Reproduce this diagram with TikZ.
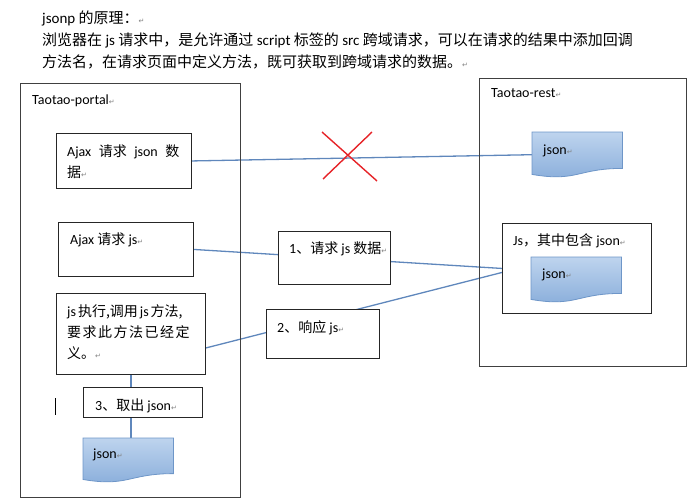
\documentclass[tikz,border=0pt]{standalone}
\usepackage{fontspec}
\setmainfont{Carlito}
\newfontfamily\cjk{Noto Sans CJK SC}
\newfontfamily\symf{DejaVu Sans}
\usetikzlibrary{calc,backgrounds}
\newcommand{\retmark}{{\symf\fontsize{7}{7}\selectfont\textcolor{gray}{↵}}}
\newcommand{\mlines}[1]{\begin{tabular}[t]{@{}l@{}}#1\end{tabular}}
\definecolor{linkblue}{RGB}{95,135,188}
\definecolor{docedge}{RGB}{110,150,200}
\definecolor{doctop}{RGB}{190,212,238}
\definecolor{docbot}{RGB}{135,172,218}
\definecolor{crossred}{RGB}{230,35,40}
\tikzset{
 boxst/.style={draw=black!85, line width=0.9pt, fill=white, inner sep=0pt, anchor=north west},
 outerbox/.style={draw=black!75, line width=1pt, inner sep=0pt, anchor=north west},
 txt/.style={anchor=base west, inner sep=0pt, font=\fontsize{14}{21}\selectfont},
 toptxt/.style={anchor=base west, inner sep=0pt, font=\fontsize{15}{22}\selectfont},
 link/.style={draw=linkblue, line width=1.3pt},
 docst/.style={draw=none, inner sep=0pt, anchor=north west},
 docfill/.style={draw=docedge, line width=0.8pt, top color=doctop, bottom color=docbot},
 crossst/.style={draw=crossred, line width=1.4pt},
}
\newcommand{\docshape}[1]{\path[docfill] (#1.north west) -- (#1.north east) -- ($(#1.north east)!0.802!(#1.south east)$) .. controls ($(#1.north)!0.802!(#1.south)$) and ($(#1.north)!1.107!(#1.south)$) .. ($(#1.north west)!0.934!(#1.south west)$) -- cycle;}
\begin{document}
\begin{tikzpicture}[x=1pt,y=-1pt]
\useasboundingbox (0,0) rectangle (695,500);
% top text
\node[toptxt] (intro) at (42,24) {\mlines{jsonp {\cjk 的原理：}\retmark\\
{\cjk 浏览器在} js {\cjk 请求中，是允许通过} script {\cjk 标签的} src {\cjk 跨域请求，可以在请求的结果中添加回调}\\
{\cjk 方法名，在请求页面中定义方法，既可获取到跨域请求的数据。}\retmark}};
% outer boxes
\node[outerbox, minimum width=220pt, minimum height=414pt] (portal) at (20,83) {};
\node[outerbox, minimum width=207pt, minimum height=288pt] (rest) at (479,78) {};
\node[txt] (portallbl) at (32,105) {Taotao-portal\retmark};
\node[txt] (restlbl) at (491,98) {Taotao-rest\retmark};
% portal inner boxes
\node[boxst, minimum width=135pt, minimum height=55pt] (A) at (56,133) {};
\node[boxst, minimum width=135pt, minimum height=54pt] (B) at (58,222) {};
\node[boxst, minimum width=149pt, minimum height=81pt] (C) at (56,293) {};
\node[boxst, minimum width=119pt, minimum height=30pt] (D) at (83,387) {};
\node[docst, minimum width=90pt, minimum height=44pt] (jL) at (83,438) {};
% rest inner
\node[docst, minimum width=90pt, minimum height=45pt] (rj) at (532,132) {};
\node[boxst, minimum width=149pt, minimum height=90pt] (js) at (502,223) {};
\node[docst, minimum width=90pt, minimum height=45pt] (ij) at (531,257) {};
% middle boxes
\node[boxst, minimum width=112pt, minimum height=53pt] (b1) at (278,231) {};
\node[boxst, minimum width=113pt, minimum height=49pt] (b2) at (266,309) {};
% document shapes
\docshape{jL}
\docshape{rj}
\docshape{ij}
% connectors below the boxes
\begin{scope}[on background layer]
 \draw[link] (A.east) -- (rj.west);
 \draw[link] (B.east) -- (js.west);
 \draw[link] ($(C.east)+(0,14)$) -- ($(js.west)+(0,4)$);
 \draw[link] (C.south) -- (C.south |- D.north);
 \draw[link] (C.south |- D.south) -- (C.south |- jL.north);
\end{scope}
% red cross
\draw[crossst] (322,132) -- (377,181);
\draw[crossst] (372,132) -- (323,179);
% cursor mark
\draw[black, line width=0.8pt] (55,398) -- (55,415);
% texts
\node[txt] (tA) at (67,156) {\mlines{Ajax\hspace{7.5pt}{\cjk 请求}\hspace{7.5pt}json\hspace{7.5pt}{\cjk 数}\\{\cjk 据}\retmark}};
\node[txt] (tB) at (70,244) {Ajax {\cjk 请求} js\retmark};
\node[txt] (tC) at (67,316) {\mlines{js\hspace{2pt}{\cjk 执行,调用}\hspace{2pt}js\hspace{2pt}{\cjk 方法,}\\{\cjk 要\kern1.5pt 求\kern1.5pt 此\kern1.5pt 方\kern1.5pt 法\kern1.5pt 已\kern1.5pt 经\kern1.5pt 定}\\{\cjk 义。}\retmark}};
\node[txt] (tD) at (95,410) {3{\cjk 、取出} json\retmark};
\node[txt] (tjL) at (93,458) {json\retmark};
\node[txt] (trj) at (543,154) {json\retmark};
\node[txt] (tjs) at (513,245) {Js{\cjk ，其中包含} json\retmark};
\node[txt] (tij) at (542,278) {json\retmark};
\node[txt] (tb1) at (289,253) {1{\cjk 、请求} js {\cjk 数据}\retmark};
\node[txt] (tb2) at (277,332) {2{\cjk 、响应} js\retmark};
\end{tikzpicture}
\end{document}
